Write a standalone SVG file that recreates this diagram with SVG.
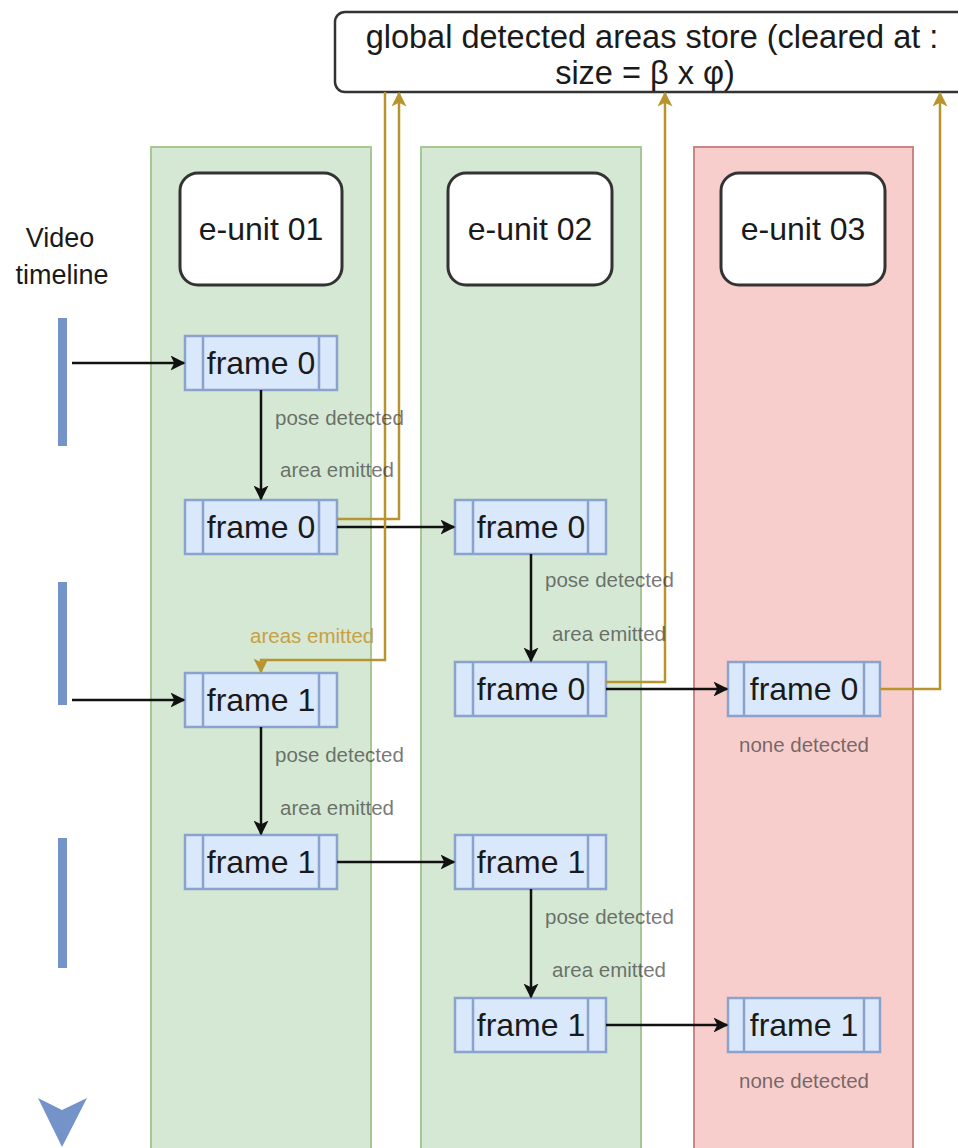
<svg xmlns="http://www.w3.org/2000/svg" width="958" height="1148" viewBox="0 0 958 1148">
<defs>
<style>
.col-g{fill:#d5e8d4;stroke:#a9c794;stroke-width:2}
.col-r{fill:#f8cecc;stroke:#c88684;stroke-width:2}
.unit{fill:#fff;stroke:#333;stroke-width:3}
.frame rect{fill:#dae8fc;stroke:#8aa3cc;stroke-width:2.5}
.frame line{stroke:#8aa3cc;stroke-width:2.5}
.t{font-family:"Liberation Sans",Arial,sans-serif;fill:#1a1a1a;text-anchor:middle}
.big{font-size:32px}
.lbl{font-family:"Liberation Sans",Arial,sans-serif;font-size:20.5px;fill:#333;fill-opacity:.68}
.gl{font-family:"Liberation Sans",Arial,sans-serif;font-size:20.5px;fill:#c8a045}
.bar{fill:#7393c9}
.blk{fill:none;stroke:#111;stroke-width:2.5}
.gold{fill:none;stroke:#b8942f;stroke-width:2.5}
</style>
<marker id="ab" viewBox="0 0 10 10" refX="9" refY="5" markerWidth="6" markerHeight="6" orient="auto" markerUnits="strokeWidth"><path d="M0,0 L10,5 L0,10 L2.5,5 z" fill="#111"/></marker>
<marker id="ag" viewBox="0 0 10 10" refX="9" refY="5" markerWidth="6" markerHeight="6" orient="auto" markerUnits="strokeWidth"><path d="M0,0 L10,5 L0,10 L2.5,5 z" fill="#b8942f"/></marker>
</defs>
<rect width="958" height="1148" fill="#fff"/>

<g id="columns">
<rect class="col-g" x="151" y="147" width="220" height="1010"/>
<rect class="col-g" x="421" y="147" width="220" height="1010"/>
<rect class="col-r" x="694" y="147" width="219" height="1010"/>
</g>

<g id="store">
<rect x="335" y="12" width="640" height="80" rx="10" fill="#fff" stroke="#333" stroke-width="2.5"/>
<text class="t" x="652" y="48" font-size="32.5">global detected areas store (cleared at :</text>
<text class="t" x="645" y="84" font-size="32.5">size = β x φ)</text>
</g>

<g id="timeline">
<text class="t" x="60" y="247" font-size="27">Video</text>
<text class="t" x="62" y="284" font-size="27">timeline</text>
<rect class="bar" x="58" y="318" width="9" height="128"/>
<rect class="bar" x="58" y="582" width="9" height="123"/>
<rect class="bar" x="58" y="838" width="9" height="130"/>
<path d="M38,1098 L62,1110 L87,1098 L62,1147 z" fill="#7393c9"/>
</g>

<g id="eunit01"><rect class="unit" x="180" y="173" width="162" height="112" rx="18"/><text class="t big" x="261" y="240">e-unit 01</text></g>
<g id="eunit02"><rect class="unit" x="448" y="173" width="164" height="112" rx="18"/><text class="t big" x="530" y="240">e-unit 02</text></g>
<g id="eunit03"><rect class="unit" x="721" y="173" width="164" height="112" rx="18"/><text class="t big" x="803" y="240">e-unit 03</text></g>

<g id="c1f0a" class="frame"><rect x="185" y="336" width="152" height="54"/><line x1="203" y1="336" x2="203" y2="390"/><line x1="319" y1="336" x2="319" y2="390"/><text class="t big" x="261" y="374">frame 0</text></g>
<g id="c1f0b" class="frame"><rect x="185" y="500" width="152" height="54"/><line x1="203" y1="500" x2="203" y2="554"/><line x1="319" y1="500" x2="319" y2="554"/><text class="t big" x="261" y="538">frame 0</text></g>
<g id="c1f1a" class="frame"><rect x="185" y="673" width="152" height="54"/><line x1="203" y1="673" x2="203" y2="727"/><line x1="319" y1="673" x2="319" y2="727"/><text class="t big" x="261" y="711">frame 1</text></g>
<g id="c1f1b" class="frame"><rect x="185" y="835" width="152" height="54"/><line x1="203" y1="835" x2="203" y2="889"/><line x1="319" y1="835" x2="319" y2="889"/><text class="t big" x="261" y="873">frame 1</text></g>

<g id="c2f0a" class="frame"><rect x="455" y="500" width="151" height="54"/><line x1="473" y1="500" x2="473" y2="554"/><line x1="588" y1="500" x2="588" y2="554"/><text class="t big" x="531" y="538">frame 0</text></g>
<g id="c2f0b" class="frame"><rect x="455" y="662" width="151" height="54"/><line x1="473" y1="662" x2="473" y2="716"/><line x1="588" y1="662" x2="588" y2="716"/><text class="t big" x="531" y="700">frame 0</text></g>
<g id="c2f1a" class="frame"><rect x="455" y="835" width="151" height="54"/><line x1="473" y1="835" x2="473" y2="889"/><line x1="588" y1="835" x2="588" y2="889"/><text class="t big" x="531" y="873">frame 1</text></g>
<g id="c2f1b" class="frame"><rect x="455" y="998" width="151" height="54"/><line x1="473" y1="998" x2="473" y2="1052"/><line x1="588" y1="998" x2="588" y2="1052"/><text class="t big" x="531" y="1036">frame 1</text></g>

<g id="c3f0" class="frame"><rect x="728" y="662" width="152" height="54"/><line x1="744" y1="662" x2="744" y2="716"/><line x1="864" y1="662" x2="864" y2="716"/><text class="t big" x="804" y="700">frame 0</text></g>
<g id="c3f1" class="frame"><rect x="728" y="998" width="152" height="54"/><line x1="744" y1="998" x2="744" y2="1052"/><line x1="864" y1="998" x2="864" y2="1052"/><text class="t big" x="804" y="1036">frame 1</text></g>

<g id="connectors">
<path class="blk" d="M72,363 L184,363" marker-end="url(#ab)"/>
<path class="blk" d="M72,700 L184,700" marker-end="url(#ab)"/>
<path class="blk" d="M261,390 L261,499" marker-end="url(#ab)"/>
<path class="blk" d="M261,727 L261,834" marker-end="url(#ab)"/>
<path class="blk" d="M337,527 L454,527" marker-end="url(#ab)"/>
<path class="blk" d="M337,862 L454,862" marker-end="url(#ab)"/>
<path class="blk" d="M531,554 L531,661" marker-end="url(#ab)"/>
<path class="blk" d="M531,889 L531,997" marker-end="url(#ab)"/>
<path class="blk" d="M606,689 L727,689" marker-end="url(#ab)"/>
<path class="blk" d="M606,1025 L727,1025" marker-end="url(#ab)"/>
<path class="gold" d="M337,519 L399,519 L399,93" marker-end="url(#ag)"/>
<path class="gold" d="M385,92 L385,660 L261,660 L261,672" marker-end="url(#ag)"/>
<path class="gold" d="M606,682 L665,682 L665,93" marker-end="url(#ag)"/>
<path class="gold" d="M880,689 L940,689 L940,93" marker-end="url(#ag)"/>
</g>

<g id="labels">
<text class="lbl" x="275" y="425">pose detected</text>
<text class="lbl" x="280" y="477">area emitted</text>
<text class="lbl" x="545" y="587">pose detected</text>
<text class="lbl" x="552" y="641">area emitted</text>
<text class="lbl" x="275" y="762">pose detected</text>
<text class="lbl" x="280" y="815">area emitted</text>
<text class="lbl" x="545" y="924">pose detected</text>
<text class="lbl" x="552" y="977">area emitted</text>
<text class="gl" x="250" y="643">areas emitted</text>
<text class="lbl" x="804" y="752" text-anchor="middle">none detected</text>
<text class="lbl" x="804" y="1088" text-anchor="middle">none detected</text>
</g>
</svg>
